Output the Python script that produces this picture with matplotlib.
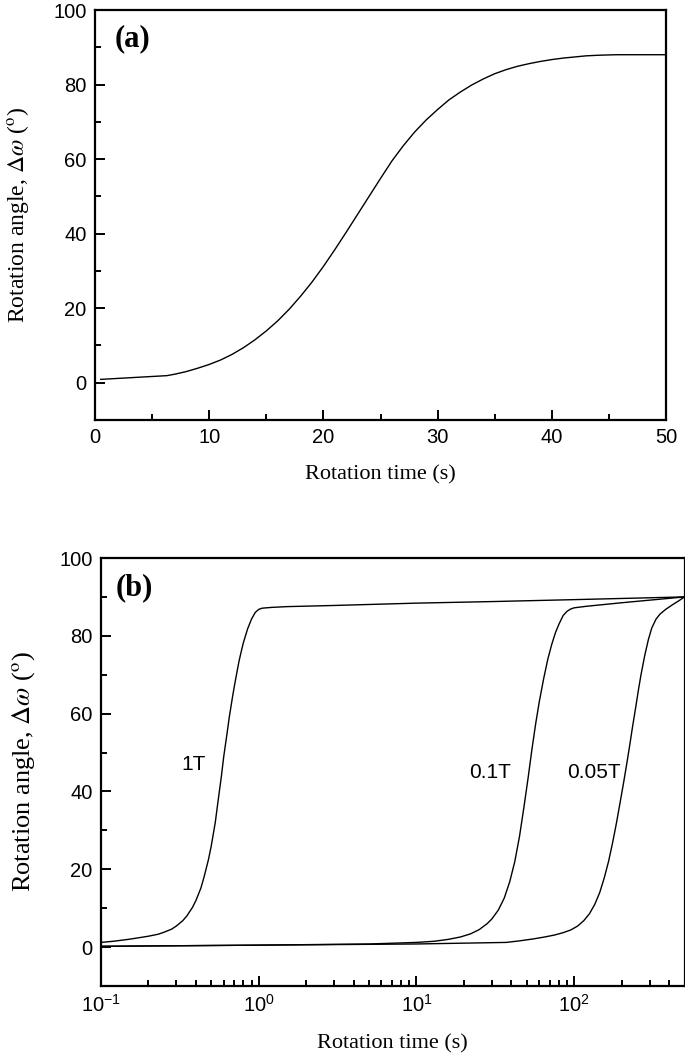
import numpy as np
import matplotlib
matplotlib.use("Agg")
import matplotlib.pyplot as plt
from matplotlib.ticker import MultipleLocator, LogLocator, NullFormatter

plt.rcParams['font.family'] = ['Liberation Sans', 'DejaVu Sans']
plt.rcParams['mathtext.fontset'] = 'custom'
plt.rcParams['mathtext.rm'] = 'Liberation Sans'
plt.rcParams['mathtext.it'] = 'Liberation Sans:italic'
plt.rcParams['mathtext.bf'] = 'Liberation Sans:bold'
plt.rcParams['axes.unicode_minus'] = False

# ---- data: panel (a) ----
time_a = [0.5, 6.3, 7, 8, 9, 10, 11, 12, 13, 14, 15, 16, 17, 18, 19, 20, 21, 22, 23, 24, 25, 26,
          27, 28, 29, 30, 31, 32, 33, 34, 35, 36, 37, 38, 39, 40, 41, 42, 43, 44, 45, 45.7, 50]
angle_a = [0.9, 1.9, 2.3, 3.0, 3.9, 4.9, 6.1, 7.6, 9.4, 11.5, 13.9, 16.6, 19.7, 23.2, 27.0, 31.2,
           35.7, 40.4, 45.2, 50.0, 54.8, 59.5, 63.6, 67.3, 70.5, 73.3, 75.9, 78.0, 79.9, 81.5,
           82.9, 84.0, 84.9, 85.6, 86.2, 86.7, 87.1, 87.4, 87.7, 87.85, 87.95, 88, 88]

# ---- data: panel (b) ----
time_1T = [0.1, 0.12, 0.15, 0.18, 0.2, 0.23, 0.25, 0.28, 0.3, 0.33, 0.35, 0.38, 0.4, 0.43, 0.45,
           0.48, 0.5, 0.53, 0.55, 0.58, 0.6, 0.63, 0.65, 0.68, 0.7, 0.73, 0.75, 0.78, 0.8, 0.85,
           0.9, 0.95, 1.0, 1.05, 1.2, 1.5, 3, 10, 30, 100, 500]
angle_1T = [1.2, 1.5, 2.0, 2.5, 2.8, 3.3, 3.8, 4.6, 5.4, 6.8, 8.0, 10.2, 12, 15.2, 18, 22.5, 26,
            32, 37, 44, 49, 55, 59, 64, 67, 71, 73.5, 76.5, 78.3, 81.8, 84.3, 86, 86.8, 87.1,
            87.3, 87.5, 87.8, 88.4, 88.8, 89.3, 90]
time_01T = [0.1, 1, 5, 10, 13, 16, 19, 22, 25, 28, 30, 33, 36, 39, 42, 45, 48, 51, 54, 57, 60,
            64, 68, 72, 76, 80, 85, 90, 95, 100, 120, 200, 500]
angle_01T = [0.2, 0.5, 0.8, 1.2, 1.5, 2.0, 2.6, 3.4, 4.5, 6.0, 7.2, 9.5, 12.6, 16.8, 22, 28.5, 36,
             43.5, 51, 57.5, 63, 69, 74, 77.8, 80.8, 83, 85.2, 86.3, 86.9, 87.2, 87.6, 88.5, 90]
time_005T = [0.1, 1, 10, 37, 45, 55, 65, 75, 85, 95, 105, 115, 125, 135, 145, 155, 165, 175, 185,
             195, 205, 215, 225, 235, 245, 255, 265, 280, 295, 310, 330, 350, 380, 420, 460, 500]
angle_005T = [0.2, 0.5, 0.8, 1.2, 1.6, 2.1, 2.6, 3.1, 3.7, 4.4, 5.4, 6.8, 8.6, 11, 14, 17.8, 22,
              26.8, 31.8, 37, 42, 47, 52, 57, 61.5, 66, 70, 75, 79, 82, 84.3, 85.6, 86.8, 88,
              89, 90]
curve_labels = ['1T', '0.1T', '0.05T']
label_pos = [(0.46, 47), (40, 45), (198, 45)]

fig = plt.figure(figsize=(6.85, 10.59), dpi=100)
ax1 = fig.add_axes([95/685, 1-420/1059, 571/685, 410/1059])
ax2 = fig.add_axes([101/685, 1-986/1059, 583.5/685, 428/1059])

serif = ['Liberation Serif', 'DejaVu Serif']
ylab = r'Rotation angle, $\Delta\omega$ ($^{\mathrm{o}}$)'

for ax, ysize in ((ax1, 17), (ax2, 19)):
    for s in ax.spines.values():
        s.set_linewidth(1.6)
    ax.tick_params(which='both', direction='in', width=1.4, labelsize=14.5,
                   top=False, right=False)
    ax.tick_params(which='major', length=7, pad=6)
    ax.tick_params(which='minor', length=4)
    ax.set_ylim(-10, 100)
    ax.yaxis.set_major_locator(MultipleLocator(20))
    ax.yaxis.set_minor_locator(MultipleLocator(10))
    ax.set_ylabel(ylab, fontsize=ysize, family=serif, math_fontfamily='stix', labelpad=16)
    ax.set_xlabel('Rotation time (s)', fontsize=16, family=serif, labelpad=13)

# panel (a)
ax1.plot(time_a, angle_a, color='black', lw=1.0)
ax1.set_xlim(0, 50)
ax1.xaxis.set_major_locator(MultipleLocator(10))
ax1.xaxis.set_minor_locator(MultipleLocator(5))
ax1.text(0.035, 0.93, '(a)', transform=ax1.transAxes, fontsize=22, fontweight='bold',
         family=serif, va='center', ha='left')

# panel (b)
ax2.plot(time_1T, angle_1T, color='black', lw=1.0)
ax2.plot(time_01T, angle_01T, color='black', lw=1.0)
ax2.plot(time_005T, angle_005T, color='black', lw=1.0)
ax2.set_xscale('log')
ax2.set_xlim(0.1, 500)
ax2.xaxis.set_major_locator(LogLocator(base=10, numticks=10))
ax2.xaxis.set_minor_locator(LogLocator(base=10, subs=np.arange(2, 10), numticks=20))
ax2.xaxis.set_minor_formatter(NullFormatter())
ax2.text(0.025, 0.93, '(b)', transform=ax2.transAxes, fontsize=22, fontweight='bold',
         family=serif, va='center', ha='left')
for lab, (x, y) in zip(curve_labels, label_pos):
    ax2.text(x, y, lab, fontsize=15, ha='right', va='center')

fig.savefig('out.png', dpi=100)
